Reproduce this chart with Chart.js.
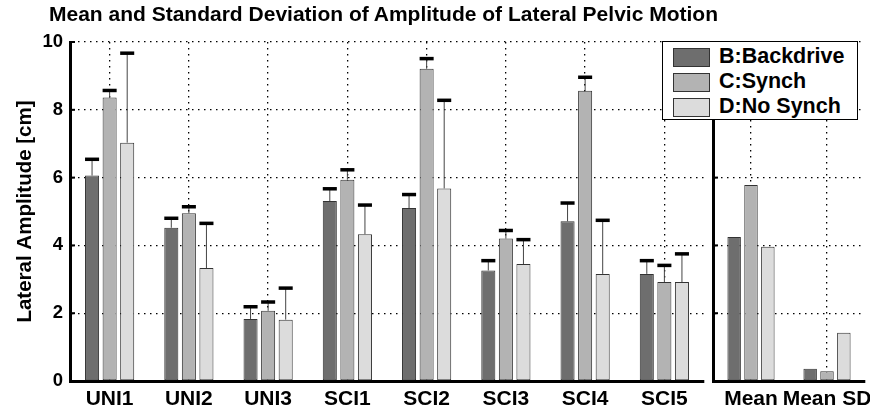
<!DOCTYPE html>
<html><head><meta charset="utf-8">
<script src="https://cdn.jsdelivr.net/npm/chart.js@4.4.1/dist/chart.umd.min.js"></script>
<style>
html,body{margin:0;padding:0;background:#fff;overflow:hidden;width:870px;height:409px;}
#wrap{position:relative;width:870px;height:409px;overflow:hidden;font-family:"Liberation Sans",Arial,Helvetica,sans-serif;color:#000;}
#title{position:absolute;left:49px;top:2px;font-weight:bold;font-size:21px;white-space:nowrap;}
#left{position:absolute;left:0;top:0;}
#right{position:absolute;left:705px;top:0;}
#legend{position:absolute;left:662px;top:41px;width:194px;height:77px;border:1.5px solid #000;background:#fff;}
.item{position:absolute;left:10px;height:19px;font-weight:bold;font-size:21.5px;}
.sw{position:absolute;left:0;top:0;width:35px;height:17px;border:1px solid #333;}
.lab{position:absolute;left:46px;top:-4px;white-space:nowrap;line-height:25px;}
</style></head>
<body>
<div id="wrap">
  <canvas id="left" width="712" height="409"></canvas>
  <canvas id="right" width="200" height="409"></canvas>
  <div id="title">Mean and Standard Deviation of Amplitude of Lateral Pelvic Motion</div>
  <div id="legend"></div>
</div>
<script>
const categories = ['UNI1','UNI2','UNI3','SCI1','SCI2','SCI3','SCI4','SCI5'];
const summaryCategories = ['Mean','Mean SD'];
const seriesNames = ['B:Backdrive','C:Synch','D:No Synch'];
const seriesColors = ['#6e6e6e','#b3b3b3','#dcdcdc'];
const backdriveMean = [6.06,4.52,1.83,5.31,5.10,3.26,4.71,3.16];
const backdriveSD   = [0.48,0.28,0.36,0.36,0.40,0.29,0.54,0.39];
const synchMean     = [8.36,4.95,2.07,5.94,9.21,4.20,8.56,2.92];
const synchSD       = [0.21,0.19,0.26,0.29,0.30,0.24,0.40,0.49];
const noSynchMean   = [7.03,3.33,1.81,4.33,5.68,3.45,3.16,2.92];
const noSynchSD     = [2.64,1.32,0.93,0.86,2.60,0.72,1.58,0.83];
const summaryBackdrive = [4.25,0.36];
const summarySynch     = [5.78,0.29];
const summaryNoSynch   = [3.96,1.42];
const yTickValues = [0,2,4,6,8,10];

const FONT = '"Liberation Sans", Arial, Helvetica, sans-serif';

const errorBarPlugin = {
  id: 'errorBars',
  afterDatasetsDraw(chart) {
    const ctx = chart.ctx;
    const yScale = chart.scales.y;
    chart.data.datasets.forEach((ds, di) => {
      if (!ds.errors) return;
      const meta = chart.getDatasetMeta(di);
      meta.data.forEach((bar, i) => {
        const v = ds.data[i], e = ds.errors[i];
        const yTop = yScale.getPixelForValue(v + e);
        const w = bar.width;
        ctx.save();
        ctx.strokeStyle = '#444';
        ctx.lineWidth = 1;
        ctx.beginPath();
        ctx.moveTo(bar.x, bar.y);
        ctx.lineTo(bar.x, yTop);
        ctx.stroke();
        ctx.strokeStyle = '#000';
        ctx.lineWidth = 3.5;
        ctx.beginPath();
        ctx.moveTo(bar.x - w / 2, yTop);
        ctx.lineTo(bar.x + w / 2, yTop);
        ctx.stroke();
        ctx.restore();
      });
    });
  }
};

const innerTicksPlugin = {
  id: 'innerTicks',
  afterDraw(chart) {
    const ctx = chart.ctx;
    const ys = chart.scales.y;
    const area = chart.chartArea;
    ctx.save();
    ctx.strokeStyle = '#000';
    ctx.lineWidth = 2;
    yTickValues.forEach(v => {
      const y = ys.getPixelForValue(v);
      ctx.beginPath();
      ctx.moveTo(area.left, y);
      ctx.lineTo(area.left + 5, y);
      ctx.stroke();
    });
    ctx.restore();
  }
};

function makeDatasets(arrs, errs) {
  return arrs.map((d, i) => ({
    label: seriesNames[i],
    data: d,
    errors: errs ? errs[i] : null,
    backgroundColor: seriesColors[i],
    borderColor: '#333',
    borderWidth: 1,
    borderSkipped: false,
    categoryPercentage: 0.665,
    barPercentage: 0.8
  }));
}

function gridOpts() {
  return { color: '#000', lineWidth: 1.3, drawTicks: false, offset: false };
}

const commonPlugins = { legend: { display: false }, tooltip: { enabled: false }, title: { display: false } };

new Chart(document.getElementById('left'), {
  type: 'bar',
  data: {
    labels: categories,
    datasets: makeDatasets([backdriveMean, synchMean, noSynchMean], [backdriveSD, synchSD, noSynchSD])
  },
  options: {
    responsive: false,
    animation: false,
    layout: { padding: { top: 42, right: 8, left: 0, bottom: 0 } },
    plugins: commonPlugins,
    scales: {
      x: {
        grid: gridOpts(),
        border: { display: true, color: '#000', width: 3, dash: [1.5, 4.5] },
        ticks: { color: '#000', font: { family: FONT, size: 21, weight: 'bold' }, padding: 6, maxRotation: 0, autoSkip: false },
        afterFit(s) { s.height = 28; s.paddingLeft = 0; s.paddingRight = 0; }
      },
      y: {
        min: 0, max: 10,
        afterBuildTicks(s) { s.ticks = yTickValues.map(v => ({ value: v })); },
        grid: gridOpts(),
        border: { display: true, color: '#000', width: 3, dash: [1.5, 4.5] },
        ticks: { color: '#000', font: { family: FONT, size: 18.5, weight: 'bold' }, padding: 7 },
        title: { display: true, text: 'Lateral Amplitude [cm]', color: '#000', font: { family: FONT, size: 20.5, weight: 'bold' }, padding: { top: 13, bottom: 0 } },
        afterFit(s) { s.width = 70; s.paddingTop = 0; s.paddingBottom = 0; }
      }
    }
  },
  plugins: [errorBarPlugin, innerTicksPlugin]
});

new Chart(document.getElementById('right'), {
  type: 'bar',
  data: {
    labels: summaryCategories,
    datasets: makeDatasets([summaryBackdrive, summarySynch, summaryNoSynch], null)
  },
  options: {
    responsive: false,
    animation: false,
    layout: { padding: { top: 42, right: 40, left: 0, bottom: 0 } },
    plugins: commonPlugins,
    scales: {
      x: {
        grid: gridOpts(),
        border: { display: true, color: '#000', width: 3, dash: [1.5, 4.5] },
        ticks: { color: '#000', font: { family: FONT, size: 21, weight: 'bold' }, padding: 6, maxRotation: 0, autoSkip: false },
        afterFit(s) { s.height = 28; s.paddingLeft = 0; s.paddingRight = 0; }
      },
      y: {
        min: 0, max: 10,
        afterBuildTicks(s) { s.ticks = yTickValues.map(v => ({ value: v })); },
        grid: gridOpts(),
        border: { display: true, color: '#000', width: 3, dash: [1.5, 4.5] },
        ticks: { display: false },
        afterFit(s) { s.width = 8; s.paddingTop = 0; s.paddingBottom = 0; }
      }
    }
  },
  plugins: [innerTicksPlugin]
});

// Legend built from the series arrays
const legend = document.getElementById('legend');
seriesNames.forEach((name, i) => {
  const item = document.createElement('div');
  item.className = 'item';
  item.style.top = (6 + i * 25) + 'px';
  const sw = document.createElement('div');
  sw.className = 'sw';
  sw.style.background = seriesColors[i];
  const lab = document.createElement('div');
  lab.className = 'lab';
  lab.textContent = name;
  item.appendChild(sw);
  item.appendChild(lab);
  legend.appendChild(item);
});
</script>
</body></html>
